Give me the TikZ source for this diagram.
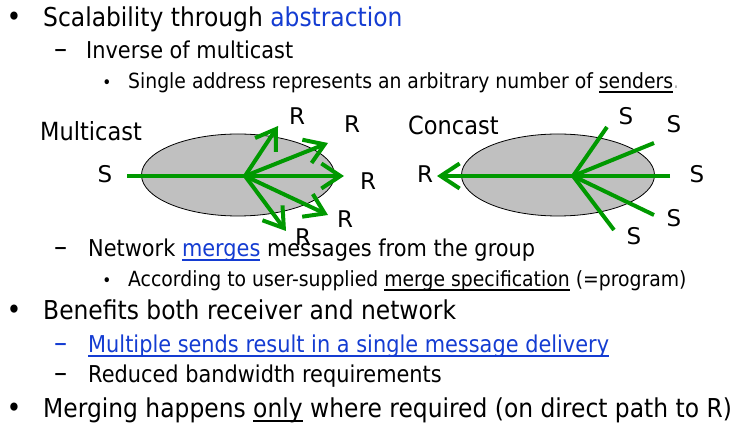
\documentclass[tikz,border=0pt]{standalone}
\usepackage{fontspec}
\setmainfont{DejaVu Sans}[FakeStretch=0.9]
\newfontfamily\lblfont{DejaVu Sans}
\usetikzlibrary{shapes.geometric,arrows.meta}
\definecolor{linkblue}{RGB}{20,60,210}
\definecolor{flowgreen}{RGB}{0,153,0}
\definecolor{cloudgray}{RGB}{192,192,192}
\newsavebox{\myulbox}
\newcommand{\myul}[1]{\sbox{\myulbox}{#1}\rlap{\rule[-4pt]{\wd\myulbox}{1.6pt}}\usebox{\myulbox}}
\tikzset{
  txt/.style={inner sep=0pt, anchor=base west},
  lone/.style={txt, font=\fontsize{26}{30}\selectfont},
  ltwo/.style={txt, font=\fontsize{23.2}{27}\selectfont},
  lthree/.style={txt, font=\fontsize{20.9}{24}\selectfont},
  bigdot/.style={inner sep=0pt, anchor=base, font=\fontsize{28}{30}\selectfont},
  dashmark/.style={inner sep=0pt, anchor=base, font=\fontsize{29}{27}\selectfont},
  smalldot/.style={inner sep=0pt, anchor=base, font=\fontsize{17}{20}\selectfont},
  title/.style={txt, font=\fontsize{25}{29}\selectfont},
  cloud/.style={ellipse, draw=black, line width=0.8pt, fill=cloudgray,
    minimum width=193pt, minimum height=82pt, inner sep=0pt},
  flow/.style={draw=flowgreen, line width=4pt},
  flowarrow/.style={flow, -{Straight Barb[length=19pt,width=25pt]}},
  lbl/.style={inner sep=0pt, font=\lblfont\fontsize{23}{26}\selectfont}
}
\begin{document}
\begin{tikzpicture}[x=1pt,y=-1pt]
\fill[white] (0,0) rectangle (742,427);
\useasboundingbox (0,0) rectangle (742,427);

% top text
\node[bigdot] (b1) at (14,27) {•};
\node[lone] (t1) at (43,27) {Scalability through \textcolor{linkblue}{abstraction}};
\node[dashmark] (d1) at (61,59) {–};
\node[ltwo] (t2) at (86,59) {Inverse of multicast};
\node[smalldot] (b2) at (107,89) {•};
\node[lthree] (t3) at (128,89) {Single address represents an arbitrary number of \myul{senders}\textcolor{gray!60}{.}};

% multicast diagram
\node[title] (mc) at (40,141) {Multicast};
\node[cloud] (net1) at (238,175) {};
\node[lbl] (src) at (105,174) {S};
\coordinate (srcout) at (127,176);
\coordinate (hub1) at (245,176);
\coordinate (m1) at (278,126);
\coordinate (m2) at (328,143);
\coordinate (m3) at (344,176);
\coordinate (m4) at (328,215);
\coordinate (m5) at (286,231);
\draw[flow] (srcout) -- (hub1);
\foreach \i in {1,...,5} \draw[flowarrow] (hub1) -- (m\i);
\node[lbl] (r1) at (297,116) {R};
\node[lbl] (r2) at (352,124) {R};
\node[lbl] (r3) at (368,181) {R};
\node[lbl] (r4) at (345,219) {R};
\node[lbl] (r5) at (303,237) {R};

% concast diagram
\node[title] (cc) at (408,135) {Concast};
\node[cloud] (net2) at (558,175) {};
\node[lbl] (dst) at (425,174) {R};
\coordinate (dstin) at (437,176);
\coordinate (hub2) at (573,176);
\coordinate (c1) at (607,127);
\coordinate (c2) at (654,143);
\coordinate (c3) at (670,176);
\coordinate (c4) at (654,215);
\coordinate (c5) at (614,230);
\draw[flowarrow] (hub2) -- (dstin);
\foreach \i in {1,...,5} \draw[flow] (c\i) -- (hub2);
\node[lbl] (s1) at (626,116) {S};
\node[lbl] (s2) at (674,124) {S};
\node[lbl] (s3) at (697,174) {S};
\node[lbl] (s4) at (674,218) {S};
\node[lbl] (s5) at (634,236) {S};

% lower text
\node[dashmark] (d2) at (61,257) {–};
\node[ltwo] (t4) at (88,257) {Network \textcolor{linkblue}{\myul{merges}} messages from the group};
\node[smalldot] (b3) at (107,287) {•};
\node[lthree] (t5) at (128,287) {According to user-supplied \myul{merge specification} (=program)};
\node[bigdot] (b4) at (14,320) {•};
\node[lone] (t6) at (43,320) {Benefits both receiver and network};
\node[dashmark, text=linkblue] (d3) at (61,353) {–};
\node[ltwo, text=linkblue] (t7) at (88,353) {\myul{Multiple sends result in a single message delivery}};
\node[dashmark] (d4) at (61,383) {–};
\node[ltwo] (t8) at (88,383) {Reduced bandwidth requirements};
\node[bigdot] (b5) at (14,418) {•};
\node[lone] (t9) at (43,418) {Merging happens \myul{only} where required (on direct path to R)};
\end{tikzpicture}
\end{document}
